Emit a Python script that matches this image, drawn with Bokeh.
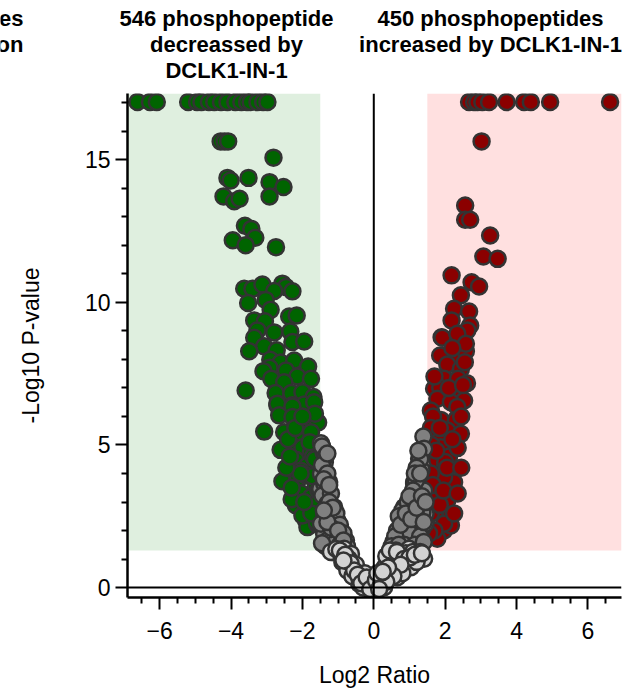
from bokeh.plotting import figure
from bokeh.layouts import column
from bokeh.models import BoxAnnotation, Span, Label, FixedTicker, Range1d
from bokeh.embed import file_html
from bokeh.resources import INLINE

# ---------------- data ----------------
green_x = [-6.62, -6.27, -6.08, -5.20, -4.95, -4.83, -4.62, -4.47, -4.28, -4.10, -3.88, -3.71, -3.55, -3.45, -3.26, -3.10, -2.98,
           -4.29, -4.18, -4.08, -2.81,
           -4.10, -4.01, -3.51, -2.92, -2.53,
           -4.21, -3.91, -3.76, -2.92,
           -3.61, -3.43, -3.32, -3.95, -3.59, -2.74,
           -3.63, -3.40, -3.12, -2.56, -2.46, -2.79, -2.28, -3.03, -3.52, -2.89, -2.37, -2.16, -3.35, -3.05,
           -3.26, -2.79, -2.34, -3.35, -2.28, -1.95, -3.07, -3.49, -2.72, -2.90, -2.61, -2.23, -1.84, -2.92,
           -3.09, -2.46, -2.14, -1.76, -2.87, -2.51, -3.59, -2.75, -2.31, -2.00, -1.69, -2.70, -2.28, -1.95,
           -2.70, -2.28, -1.67, -2.65, -2.28, -1.90, -1.56, -3.07, -2.51, -2.14, -1.76, -2.34, -2.00, -2.61,
           -1.76, -2.18, -1.86, -2.56, -2.14, -1.90, -2.04, -1.76, -2.18, -1.81, -1.90, -1.86, -2.00,
           -2.40, -2.05, -1.62, -1.70, -1.60, -2.30, -1.65, -1.58, -1.72,
           -1.60, -1.75, -1.95, -2.30, -2.05, -1.65, -2.45, -1.55, -2.20, -1.65, -2.00, -1.80, -2.35]
green_y = [17.03, 17.03, 17.03, 17.03, 17.03, 17.03, 17.03, 17.03, 17.03, 17.03, 17.03, 17.03, 17.03, 17.03, 17.03, 17.03, 17.03,
           15.65, 15.65, 15.65, 15.08,
           14.37, 14.28, 14.37, 14.22, 14.05,
           13.72, 13.55, 13.64, 13.72,
           12.69, 12.58, 12.27, 12.18, 12.01, 11.94,
           10.48, 10.48, 10.63, 10.66, 10.54, 10.40, 10.39, 10.09, 9.98, 9.74, 9.51, 9.54, 9.37, 9.34,
           9.02, 8.95, 8.98, 8.76, 8.61, 8.63, 8.46, 8.29, 8.32, 7.99, 7.89, 7.96, 7.75, 7.71,
           7.59, 7.61, 7.40, 7.32, 7.32, 7.20, 6.91, 6.82, 6.82, 6.85, 6.68, 6.39, 6.39, 6.42,
           6.45, 6.35, 6.50, 6.04, 5.98, 5.86, 5.79, 5.47, 5.45, 5.39, 5.45, 5.04, 4.92, 4.83,
           4.75, 4.48, 4.28, 3.73, 3.75, 3.93, 3.31, 3.17, 2.88, 2.76, 2.35, 2.12, 2.53,
           5.20, 4.10, 3.60, 4.60, 2.95, 3.10, 2.45, 2.20, 3.90,
           2.30, 2.60, 3.00, 3.50, 4.00, 4.50, 4.20, 3.40, 5.60, 6.10, 6.00, 5.10, 4.60]

red_x = [2.67, 2.81, 2.90, 3.04, 3.23, 3.72, 4.21, 4.40, 4.94, 6.62,
         3.02,
         2.56, 2.56, 2.70, 3.26, 3.07, 3.47, 2.18, 2.74, 2.95, 2.44, 2.25, 2.67, 2.18, 2.70, 2.36, 1.90,
         1.92, 2.39, 2.62, 1.86, 2.30, 2.58, 2.06, 2.44, 1.97, 2.36, 2.61, 1.69, 1.86, 2.20, 1.78, 2.53,
         2.16, 2.34, 1.60, 1.88, 2.30, 2.06, 2.44, 1.78, 2.16, 1.88, 2.11, 1.78, 1.97, 2.25, 1.69, 1.97,
         1.78, 2.06, 1.88, 2.11, 1.78, 1.97,
         2.34, 2.58, 1.78, 2.16, 1.92, 1.60, 1.64, 1.74, 1.97, 1.62, 2.00, 2.35, 1.66, 1.58,
         1.60, 1.70, 1.85, 1.65, 1.95, 2.05, 1.75, 1.60, 1.85, 2.20, 2.45, 1.70, 2.10, 2.50, 2.55, 2.20,
         1.55, 2.25, 2.35, 2.45]
red_y = [17.03, 17.03, 17.03, 17.03, 17.03, 17.03, 17.03, 17.03, 17.03, 17.03,
         15.65,
         13.40, 12.90, 12.90, 12.35, 11.61, 11.53, 10.95, 10.71, 10.56, 10.25, 9.78, 9.68, 9.37, 9.19, 8.88, 8.78,
         8.76, 8.88, 9.02, 8.14, 8.14, 8.29, 7.82, 7.67, 7.32, 7.32, 7.17, 6.97, 7.01, 6.80, 6.62, 6.56,
         6.50, 6.33, 6.21, 5.88, 5.88, 5.51, 5.39, 5.27, 4.98, 4.92, 4.60, 4.46, 4.16, 3.69, 3.75, 3.87,
         3.29, 3.05, 2.59, 2.24, 1.76, 2.00,
         8.90, 8.55, 1.71, 2.18, 2.64, 4.00, 3.29, 2.70, 2.24, 5.00, 4.40, 4.90, 6.00, 2.05,
         2.60, 2.00, 2.90, 3.60, 3.40, 4.20, 4.80, 5.60, 5.60, 5.20, 6.00, 7.40, 7.00, 7.10, 7.90, 8.40,
         1.90, 2.60, 3.30, 4.20]

gray_x = [-1.48, -1.41, -1.37, -1.48, -1.25, -1.50, -1.34, -1.30, -1.11, -1.20, -1.02, -1.06, -1.39, -0.92, -0.78,
          -1.39, -1.44, -1.30, -1.39, -1.16, -1.48, -1.11, -0.92, -1.30, -1.02,
          -1.45, -1.35, -1.45, -1.30, -1.40, -1.20, -1.25, -1.05, -0.95, -1.20, -0.85, -1.35, -1.15, -0.75, -0.95,
          -1.45, -1.30, -1.15, -1.00, -0.85, -1.25, -1.40, -1.30,
          1.13, 1.41, 1.04, 0.85, 1.32, 1.13, 1.45, 0.94, 1.36, 1.45, 0.76,
          1.39, 1.41, 1.27, 1.34, 1.13, 1.22, 1.18, 1.04, 0.94, 1.36, 0.80,
          1.30, 1.20, 1.10, 0.95, 1.20, 0.70, 0.85, 1.25, 0.65, 1.00, 1.30, 0.55, 0.85, 1.15, 1.40,
          0.60, 0.75, 0.90, 1.00, 1.15, 1.25, 0.50, 1.05, 1.20, 1.35, 1.40, 0.70, 1.30, 1.45]
gray_y = [5.06, 4.75, 4.40, 3.99, 3.70, 3.46, 3.17, 2.70, 2.82, 2.41, 2.35, 2.06, 1.88, 1.76, 1.65,
          3.64, 3.23, 2.94, 2.59, 2.53, 2.24, 2.00, 1.88, 1.65, 1.65,
          4.95, 4.60, 4.30, 4.00, 3.80, 3.30, 3.00, 2.60, 2.20, 2.10, 1.90, 1.45, 1.50, 1.45, 1.50,
          1.55, 2.30, 2.80, 2.00, 1.65, 3.60, 2.70, 4.70,
          3.64, 3.40, 3.23, 2.82, 2.82, 2.47, 2.59, 2.18, 2.06, 2.24, 1.76,
          5.30, 4.87, 4.52, 4.13, 3.69, 3.87, 3.75, 3.05, 2.24, 2.64, 2.70,
          4.50, 4.20, 3.40, 3.00, 3.10, 2.50, 2.30, 2.40, 2.00, 1.90, 1.80, 1.60, 1.50, 1.50, 1.60,
          1.80, 2.20, 2.60, 3.20, 4.00, 4.80, 1.45, 2.40, 2.80, 3.20, 2.30, 1.50, 4.00, 3.00]

lgray_x = [-0.83, -1.11, -0.64, -0.88, -0.60, -0.46, -0.74, -0.32, -0.18, -0.41, -0.08, 0.10, 0.24, 0.15,
           -1.00, -0.70, -0.50, -0.60, -0.25, -0.40, -0.15, -0.30, -0.05, -1.20, -0.90,
           -1.05, -0.95, -0.80, -0.65, -0.55, -0.45, -0.35, -0.20, -0.85, -0.10,
           0.99, 0.62, 1.22, 1.41, 0.80, 1.04, 0.43, 0.48, 0.66, 0.20, 0.06, 0.29,
           0.30, 0.50, 0.70, 0.90, 1.10, 1.30, 0.40, 0.20, 0.10, 0.60, 0.80, 1.20, 0.35, 0.55,
           0.45, 0.65, 0.85, 1.00, 0.75, 0.55, 0.35, 0.15, 1.15, 1.35, 0.40, 0.25]
lgray_y = [1.36, 1.24, 1.18, 0.89, 0.77, 0.54, 0.60, 0.31, 0.07, 0.13, -0.11, -0.05, 0.19, 0.31,
           1.20, 1.00, 0.80, 0.40, 0.50, 0.30, 0.20, 0.00, 0.10, 1.25, 1.10,
           1.35, 1.30, 1.15, 0.85, 0.60, 0.45, 0.15, 0.35, 0.95, -0.05,
           1.36, 1.30, 1.18, 1.01, 0.89, 0.71, 0.95, 0.48, 0.36, 0.36, 0.25, 0.01,
           0.70, 0.90, 1.10, 1.20, 1.25, 1.25, 0.40, 0.10, 0.50, 0.60, 0.50, 0.90, 1.10, 1.25,
           1.30, 1.25, 1.00, 1.05, 0.80, 0.40, 0.20, -0.05, 1.15, 1.20, 0.70, 0.55]

x_major = [-6, -4, -2, 0, 2, 4, 6]
x_minor = [-6.5, -5.5, -5, -4.5, -3.5, -3, -2.5, -1.5, -1, -0.5, 0.5, 1, 1.5, 2.5, 3, 3.5, 4.5, 5, 5.5, 6.5]
y_major = [0, 5, 10, 15]
y_minor = [1, 2, 3, 4, 6, 7, 8, 9, 11, 12, 13, 14, 16, 17]

title_left = ["546 phosphopeptide", "decreassed by", "DCLK1-IN-1"]
title_right = ["450 phosphopeptides", "increased by DCLK1-IN-1"]
title_cut = ["es", "on"]

fc_cut = 1.5
p_cut = 1.3
x_lo, x_hi = -6.9, 6.94
y_lo, y_hi = -0.35, 17.33

FONT = "Liberation Sans"
W = 625
HEAD_H = 93

# ---------------- header (text block above the plot) ----------------
head = figure(width=W, height=HEAD_H, output_backend="svg", toolbar_location=None,
              x_range=Range1d(0, W), y_range=Range1d(HEAD_H, 0), min_border=0)
head.axis.visible = False
head.xgrid.visible = False
head.ygrid.visible = False
head.outline_line_color = None
try:
    head.frame_align = False
except Exception:
    pass

line_y = [18, 44, 70]

def add_lines(lines, xc, align):
    for t, yy in zip(lines, line_y):
        head.add_layout(Label(x=xc, y=yy, text=t, text_align=align, text_baseline="middle",
                              text_font=FONT, text_font_size="22px", text_font_style="bold",
                              text_color="black"))

add_lines(title_left, 226, "center")
add_lines(title_right, 490, "center")
add_lines(title_cut, 23, "right")

# ---------------- main volcano plot ----------------
p = figure(width=W, height=600, output_backend="svg", toolbar_location=None,
           x_range=Range1d(x_lo, x_hi), y_range=Range1d(y_lo, y_hi),
           min_border_left=127, min_border_top=0, min_border_bottom=96, min_border_right=W - 621)
p.outline_line_color = None
p.xgrid.visible = False
p.ygrid.visible = False
p.background_fill_color = "white"
try:
    p.frame_align = False
except Exception:
    pass

p.add_layout(BoxAnnotation(left=x_lo, right=-fc_cut, bottom=p_cut, top=y_hi,
                           fill_color="#dfefdf", fill_alpha=1, line_color=None, level="underlay"))
p.add_layout(BoxAnnotation(left=fc_cut, right=x_hi, bottom=p_cut, top=y_hi,
                           fill_color="#ffe0e0", fill_alpha=1, line_color=None, level="underlay"))

common = dict(size=16, line_color="#333333", line_width=2.5)
p.scatter(green_x, green_y, fill_color="#006400", **common)
p.scatter(red_x, red_y, fill_color="#8b0000", **common)
p.scatter(gray_x, gray_y, fill_color="#808080", **common)
p.scatter(lgray_x, lgray_y, fill_color="#d3d3d3", **common)

p.add_layout(Span(location=0, dimension="height", line_color="black", line_width=2))
p.add_layout(Span(location=0, dimension="width", line_color="black", line_width=2))

for ax in (p.xaxis[0], p.yaxis[0]):
    ax.axis_line_width = 2.5
    ax.axis_line_color = "black"
    ax.major_tick_line_width = 2
    ax.minor_tick_line_width = 2
    ax.major_tick_out = 12
    ax.major_tick_in = 0
    ax.minor_tick_out = 6
    ax.minor_tick_in = 0
    ax.major_label_text_font = FONT
    ax.major_label_text_font_size = "23px"
    ax.major_label_text_color = "black"
    ax.axis_label_text_font = FONT
    ax.axis_label_text_font_size = "23px"
    ax.axis_label_text_font_style = "normal"
    ax.axis_label_text_color = "black"

p.xaxis.ticker = FixedTicker(ticks=x_major, minor_ticks=x_minor)
p.yaxis.ticker = FixedTicker(ticks=y_major, minor_ticks=y_minor)
p.xaxis.axis_label = "Log2 Ratio"
p.yaxis.axis_label = "-Log10 P-value"
p.xaxis.major_label_standoff = 12
p.yaxis.major_label_standoff = 5
p.xaxis.axis_label_standoff = 20
p.yaxis.axis_label_standoff = 38

layout = column(head, p, spacing=0)
open("out.html", "w").write(file_html(layout, INLINE))
